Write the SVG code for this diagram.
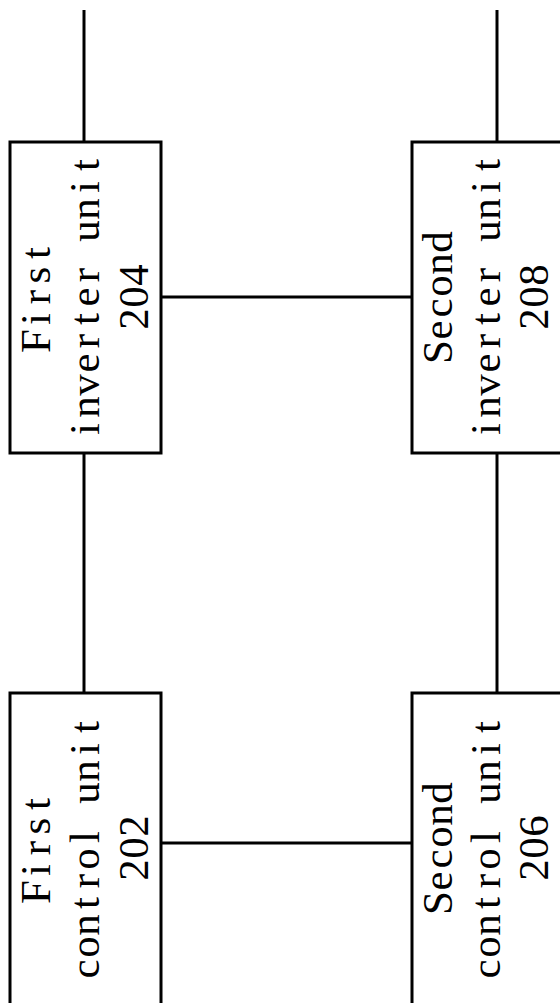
<svg xmlns="http://www.w3.org/2000/svg" width="560" height="1003" viewBox="0 0 560 1003">
<style>
.box{fill:#fff;stroke:#000;stroke-width:3}
.ln{stroke:#000;stroke-width:3;fill:none}
.t{font-family:"Liberation Serif",serif;font-size:43px;fill:#000;text-anchor:middle}
</style>
<rect width="560" height="1003" fill="#fff"/>
<g id="connectors">
<line class="ln" x1="84" y1="10" x2="84" y2="142"/>
<line class="ln" x1="497" y1="10" x2="497" y2="142"/>
<line class="ln" x1="161" y1="297" x2="412" y2="297"/>
<line class="ln" x1="84" y1="453" x2="84" y2="693"/>
<line class="ln" x1="497" y1="453" x2="497" y2="693"/>
<line class="ln" x1="161" y1="843" x2="412" y2="843"/>
</g>
<g id="first-inverter">
<rect class="box" x="10" y="142" width="151" height="311"/>
<text class="t" transform="translate(50,297) rotate(-90)" x="-44 -22 0 22 44">First</text>
<text class="t" transform="translate(99,297) rotate(-90)" x="-132 -110 -88 -66 -44 -22 0 22 44 66 88 110 132">inverter unit</text>
<text class="t" transform="translate(148,297) rotate(-90)" x="-22 0 22">204</text>
</g>
<g id="second-inverter">
<rect class="box" x="412" y="142" width="160" height="311"/>
<text class="t" transform="translate(452,297) rotate(-90)" x="-55 -33 -11 11 33 55">Second</text>
<text class="t" transform="translate(500,297) rotate(-90)" x="-132 -110 -88 -66 -44 -22 0 22 44 66 88 110 132">inverter unit</text>
<text class="t" transform="translate(548,297) rotate(-90)" x="-22 0 22">208</text>
</g>
<g id="first-control">
<rect class="box" x="10" y="693" width="151" height="320"/>
<text class="t" transform="translate(50,848) rotate(-90)" x="-44 -22 0 22 44">First</text>
<text class="t" transform="translate(99,848) rotate(-90)" x="-121 -99 -77 -55 -33 -11 11 33 55 77 99 121">control unit</text>
<text class="t" transform="translate(148,848) rotate(-90)" x="-22 0 22">202</text>
</g>
<g id="second-control">
<rect class="box" x="412" y="693" width="160" height="320"/>
<text class="t" transform="translate(452,848) rotate(-90)" x="-55 -33 -11 11 33 55">Second</text>
<text class="t" transform="translate(500,848) rotate(-90)" x="-121 -99 -77 -55 -33 -11 11 33 55 77 99 121">control unit</text>
<text class="t" transform="translate(548,848) rotate(-90)" x="-22 0 22">206</text>
</g>
</svg>
